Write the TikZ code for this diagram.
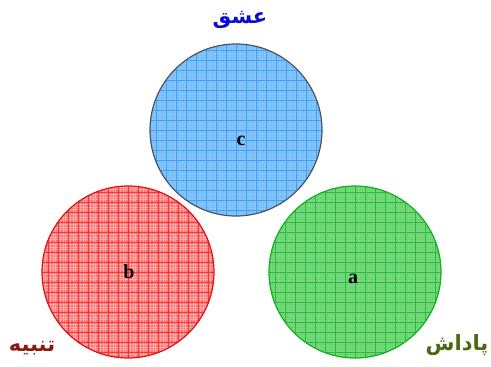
\documentclass[tikz,border=0pt]{standalone}
\usepackage{fontspec}
\setmainfont{Liberation Serif}
\newfontfamily\arabicfont[Script=Arabic]{DejaVu Sans}
\TeXXeTstate=1
\definecolor{cfill}{HTML}{8CC8FF}
\definecolor{cgrid}{HTML}{3AA0F0}
\definecolor{cline}{HTML}{4A5560}
\definecolor{bfill}{HTML}{FF7070}
\definecolor{bgrid}{HTML}{F03A3A}
\definecolor{bline}{HTML}{E01010}
\definecolor{afill}{HTML}{78DC80}
\definecolor{agrid}{HTML}{2CB83C}
\definecolor{aline}{HTML}{10B020}
\definecolor{tblue}{HTML}{0A0AD0}
\definecolor{tred}{HTML}{8A1A10}
\definecolor{tgreen}{HTML}{4A6A10}
\tikzset{
  lbl/.style={font=\bfseries\fontsize{20}{20}\selectfont, text=black},
  ar/.style={font=\arabicfont\bfseries\fontsize{21}{25}\selectfont},
  fine/.style={line width=0.3pt},
  coarse/.style={line width=0.9pt},
}
\newcommand{\mygrid}[5]{% cx cy finecolor coarsecolor finestep
  \foreach \k in {-90,-87.5,...,90} {
    \draw[fine,#3] (#1+\k,#2-90) -- (#1+\k,#2+90);
    \draw[fine,#3] (#1-90,#2+\k) -- (#1+90,#2+\k);
  }
  \foreach \k in {-90,-80,...,90} {
    \draw[coarse,#4] (#1+\k,#2-90) -- (#1+\k,#2+90);
    \draw[coarse,#4] (#1-90,#2+\k) -- (#1+90,#2+\k);
  }
}
\begin{document}
\begin{tikzpicture}[x=1pt,y=-1pt]
\useasboundingbox (0,0) rectangle (491,367);
% circle c
\begin{scope}
\clip (236,130) circle (86);
\fill[cfill] (236,130) circle (86);
\mygrid{236}{130}{cgrid!25!cfill}{cgrid}{2.5}
\end{scope}
\draw[cline, line width=1.2pt] (236,130) circle (86);
% circle b
\begin{scope}
\clip (128,272) circle (86);
\fill[bfill] (128,272) circle (86);
\mygrid{128}{272}{white!40!bfill}{bgrid}{2.5}
\end{scope}
\draw[bline, line width=1.2pt] (128,272) circle (86);
% circle a
\begin{scope}
\clip (355,272) circle (86);
\fill[afill] (355,272) circle (86);
\mygrid{355}{272}{agrid!20!afill}{agrid}{2.5}
\end{scope}
\draw[aline, line width=1.2pt] (355,272) circle (86);
% letters
\node[lbl] (c) at (241,141) {c};
\node[lbl] (b) at (129,272) {b};
\node[lbl] (a) at (353,279) {a};
% Persian labels
\node[ar, text=tblue] (eshgh) at (240,20) {\beginR عشق\endR};
\node[ar, text=tred] (tanbih) at (32,348) {\beginR تنبیه\endR};
\node[ar, text=tgreen] (padash) at (457,345) {\beginR پاداش\endR};
\end{tikzpicture}
\end{document}
